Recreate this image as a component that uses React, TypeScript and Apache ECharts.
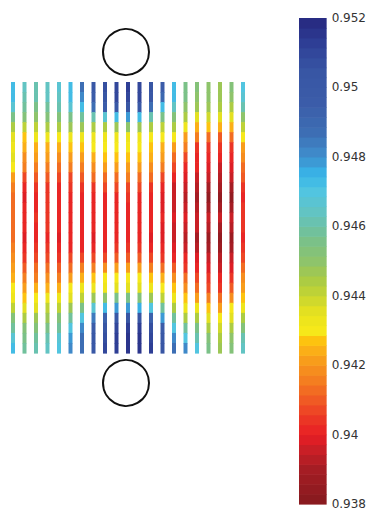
import { useEffect, useRef } from "react";
import * as echarts from "echarts";

// ---- data ----
const strips: string[] = Array.from({ length: 21 }, (_, i) => `S${i + 1}`);
const rows: string[] = Array.from({ length: 27 }, (_, i) => `R${i + 1}`);

// value of each strip, top row first (27 rows)
const stripProfiles: number[][] = [
  [.9474, .9473, .9467, .9456, .9443, .9436, .9434, .9435, .9431, .9422, .9417, .9414, .9413, .9413, .9414, .9413, .9415, .9418, .942, .9424, .9431, .9432, .944, .9452, .9458, .9466, .9474],
  [.9463, .9462, .9458, .9452, .9442, .9428, .9423, .9419, .9416, .9408, .9402, .9399, .94, .9401, .94, .9398, .94, .9405, .941, .9415, .942, .9428, .9435, .9443, .9452, .9456, .9458],
  [.9462, .9461, .9457, .9451, .9442, .9432, .9424, .942, .9416, .9411, .9405, .9402, .9402, .9403, .9402, .9401, .9403, .9407, .9412, .9417, .9423, .943, .9437, .9446, .9453, .9458, .9461],
  [.9465, .9464, .9459, .9452, .9443, .9432, .9424, .942, .9415, .941, .9405, .9403, .9403, .9404, .9403, .9402, .9404, .9408, .9413, .9418, .9425, .9432, .944, .9448, .9456, .9461, .9465],
  [.9466, .9465, .946, .9453, .9443, .9431, .9423, .9418, .9413, .9407, .9402, .94, .94, .9401, .94, .9399, .9401, .9405, .941, .9417, .9425, .9433, .9442, .9452, .9459, .9467, .9471],
  [.9474, .9473, .9468, .9457, .9447, .9434, .9426, .942, .9415, .9408, .9403, .9401, .9401, .9402, .9401, .94, .9402, .9407, .9414, .9422, .943, .9437, .9447, .9458, .947, .9479, .9482],
  [.9486, .9482, .9473, .9458, .9446, .9434, .9428, .9422, .9417, .941, .9404, .9401, .9401, .9402, .9401, .94, .9402, .9407, .9415, .9425, .9432, .9442, .9455, .947, .9481, .9486, .9488],
  [.95, .9497, .9488, .9462, .9444, .9432, .9429, .9424, .9419, .9412, .9405, .9401, .94, .9401, .94, .9399, .9401, .9407, .9416, .9428, .9433, .9446, .9468, .9484, .9495, .95, .9502],
  [.9506, .9504, .9495, .9468, .9444, .9432, .943, .9426, .942, .9413, .9406, .9402, .9401, .9401, .9401, .94, .9402, .9408, .9418, .9429, .9434, .945, .9472, .9492, .9503, .9508, .951],
  [.9511, .9509, .9502, .9474, .9446, .9432, .943, .9427, .9421, .9414, .9407, .9402, .9401, .9401, .9401, .94, .9403, .941, .942, .943, .9437, .9455, .9478, .9502, .951, .9513, .9514],
  [.9512, .951, .9503, .9478, .945, .9433, .943, .9427, .9422, .9415, .9408, .9403, .9401, .9401, .9401, .9401, .9403, .941, .942, .943, .9437, .9455, .9478, .9505, .9513, .9516, .9517],
  [.9511, .9509, .9501, .9472, .9448, .9432, .943, .9427, .9421, .9414, .9407, .9402, .9401, .9401, .9401, .94, .9403, .941, .942, .943, .9437, .9453, .9477, .9503, .9512, .9515, .9516],
  [.9505, .9502, .9487, .9462, .9443, .9431, .9428, .9424, .9419, .9412, .9405, .9401, .94, .94, .94, .9399, .9402, .9408, .9417, .9428, .9434, .9448, .947, .9494, .9507, .951, .9512],
  [.9496, .9491, .9474, .9455, .944, .943, .9425, .942, .9415, .9408, .9402, .9399, .9399, .94, .9399, .9398, .94, .9405, .9413, .9423, .9431, .944, .9458, .9478, .9495, .9502, .9505],
  [.9474, .9472, .9464, .9452, .9443, .943, .9421, .9413, .9408, .9402, .9397, .9396, .9397, .9399, .9397, .9396, .9398, .9402, .9409, .9418, .9427, .9432, .9445, .9458, .947, .948, .9487],
  [.9457, .9455, .9451, .9443, .9433, .9422, .9415, .9406, .9402, .9399, .9396, .9393, .9396, .9398, .9396, .9393, .9396, .94, .9405, .9412, .9419, .9428, .9434, .9445, .9458, .947, .948],
  [.9453, .9451, .9446, .9436, .9425, .9415, .9405, .9401, .94, .9397, .9394, .9389, .9394, .9397, .9395, .9389, .9393, .9398, .9401, .9407, .9414, .9422, .9432, .9443, .9455, .9462, .947],
  [.9451, .945, .9446, .9438, .9428, .9413, .9404, .9401, .9398, .9395, .939, .9385, .9391, .9396, .9392, .9386, .939, .9395, .9399, .9403, .9408, .9416, .9428, .9436, .9444, .9452, .9456],
  [.9448, .9447, .9443, .9436, .9424, .941, .9403, .94, .9397, .9394, .9389, .9384, .939, .9395, .9391, .9384, .9388, .9393, .9397, .94, .9404, .9412, .9422, .9431, .9438, .9443, .9446],
  [.9452, .945, .9445, .9436, .9424, .9413, .9404, .9401, .9398, .9395, .939, .9385, .9391, .9396, .9392, .9386, .939, .9395, .9399, .9403, .9409, .9418, .9429, .9437, .9444, .945, .9454],
  [.9469, .9467, .946, .9451, .9441, .9431, .9422, .9418, .9414, .9409, .9404, .9402, .9403, .9405, .9404, .9402, .9404, .9408, .9412, .9418, .9421, .9427, .9432, .9445, .9452, .946, .9463],
];

const colorTicks: number[] = [0.938, 0.94, 0.942, 0.944, 0.946, 0.948, 0.95, 0.952];
const colorMin = colorTicks[0];
const colorMax = colorTicks[colorTicks.length - 1];
const levelCount = 49;

const colorStops: [number, string][] = [
  [0.938, "#861a1e"],
  [0.939, "#a51d24"],
  [0.9395, "#c41f26"],
  [0.94, "#e81e25"],
  [0.9405, "#ec3925"],
  [0.941, "#f05a24"],
  [0.9415, "#f37a20"],
  [0.942, "#f7941d"],
  [0.9425, "#fcb416"],
  [0.9428, "#fdc90c"],
  [0.943, "#f6e81a"],
  [0.9435, "#e8e21e"],
  [0.944, "#c6d531"],
  [0.9445, "#a8ca46"],
  [0.945, "#8ec46b"],
  [0.9455, "#7dc183"],
  [0.946, "#6cc1a6"],
  [0.9465, "#60c4c8"],
  [0.947, "#52c5e0"],
  [0.9475, "#38b6e9"],
  [0.9478, "#3c9dd8"],
  [0.9482, "#3f86c6"],
  [0.9487, "#3d6eb4"],
  [0.9495, "#3b5da9"],
  [0.9505, "#3855a4"],
  [0.9513, "#2e3e95"],
  [0.952, "#26287e"],
];

// ---- colour helpers ----
function hexToRgb(h: string): number[] {
  const n = parseInt(h.slice(1), 16);
  return [(n >> 16) & 255, (n >> 8) & 255, n & 255];
}
function interpColor(v: number): string {
  if (v <= colorStops[0][0]) return colorStops[0][1];
  for (let i = 1; i < colorStops.length; i++) {
    const [v1, c1] = colorStops[i];
    const [v0, c0] = colorStops[i - 1];
    if (v <= v1) {
      const t = (v - v0) / (v1 - v0);
      const a = hexToRgb(c0);
      const b = hexToRgb(c1);
      const m = a.map((x, k) => Math.round(x + (b[k] - x) * t));
      return `rgb(${m[0]},${m[1]},${m[2]})`;
    }
  }
  return colorStops[colorStops.length - 1][1];
}
const step = (colorMax - colorMin) / levelCount;
function levelColor(v: number): string {
  let k = Math.floor((v - colorMin) / step);
  if (k < 0) k = 0;
  if (k > levelCount - 1) k = levelCount - 1;
  return interpColor(colorMin + (k + 0.5) * step);
}

export default function App() {
  const ref = useRef<HTMLDivElement>(null);
  useEffect(() => {
    if (!ref.current) return;
    const chart = echarts.init(ref.current, null, { renderer: "svg" });

    const cellData: number[][] = [];
    stripProfiles.forEach((col, c) => {
      col.forEach((v, r) => cellData.push([c, r, v]));
    });
    const bandData: number[][] = [];
    for (let k = 0; k < levelCount; k++) {
      bandData.push([colorMin + k * step, colorMin + (k + 1) * step]);
    }

    chart.setOption({
      animation: false,
      backgroundColor: "#ffffff",
      grid: [
        { left: 7.25, top: 82, width: 241.5, height: 271 },
        { left: 299, top: 18, width: 29, height: 490 },
      ],
      xAxis: [
        { type: "category", data: strips, gridIndex: 0, show: false },
        { type: "value", min: 0, max: 1, gridIndex: 1, show: false },
      ],
      yAxis: [
        { type: "category", data: rows, gridIndex: 0, inverse: true, show: false },
        {
          type: "value",
          gridIndex: 1,
          min: colorMin,
          max: colorMax,
          interval: 0.002,
          position: "right",
          axisLine: { show: false },
          axisTick: { show: false },
          splitLine: { show: false },
          axisLabel: {
            margin: 5,
            fontSize: 12,
            color: "#333",
            fontFamily: "DejaVu Sans",
            formatter: (v: number) => String(+v.toFixed(3)),
          },
        },
      ],
      series: [
        {
          type: "custom",
          xAxisIndex: 0,
          yAxisIndex: 0,
          data: cellData,
          renderItem: (params: any, api: any) => {
            const p = api.coord([api.value(0), api.value(1)]);
            const s = api.size([1, 1]);
            return {
              type: "rect",
              shape: { x: p[0] - 2, y: p[1] - s[1] / 2, width: 4, height: s[1] + 0.6 },
              style: { fill: levelColor(api.value(2)) },
            };
          },
        },
        {
          type: "custom",
          xAxisIndex: 1,
          yAxisIndex: 1,
          data: bandData,
          renderItem: (params: any, api: any) => {
            const lo = api.value(0);
            const hi = api.value(1);
            const a = api.coord([0, hi]);
            const b = api.coord([1, lo]);
            return {
              type: "rect",
              shape: { x: a[0], y: a[1], width: b[0] - a[0], height: b[1] - a[1] + 0.6 },
              style: { fill: levelColor((lo + hi) / 2) },
            };
          },
        },
      ],
      graphic: [
        {
          type: "circle",
          shape: { cx: 126, cy: 52, r: 23 },
          style: { fill: "none", stroke: "#111", lineWidth: 2 },
        },
        {
          type: "circle",
          shape: { cx: 126, cy: 383, r: 23 },
          style: { fill: "none", stroke: "#111", lineWidth: 2 },
        },
      ],
    });
    return () => chart.dispose();
  }, []);
  return (
    <div
      ref={ref}
      style={{ position: "fixed", left: 0, top: 0, width: 369, height: 510, background: "#fff" }}
    />
  );
}
